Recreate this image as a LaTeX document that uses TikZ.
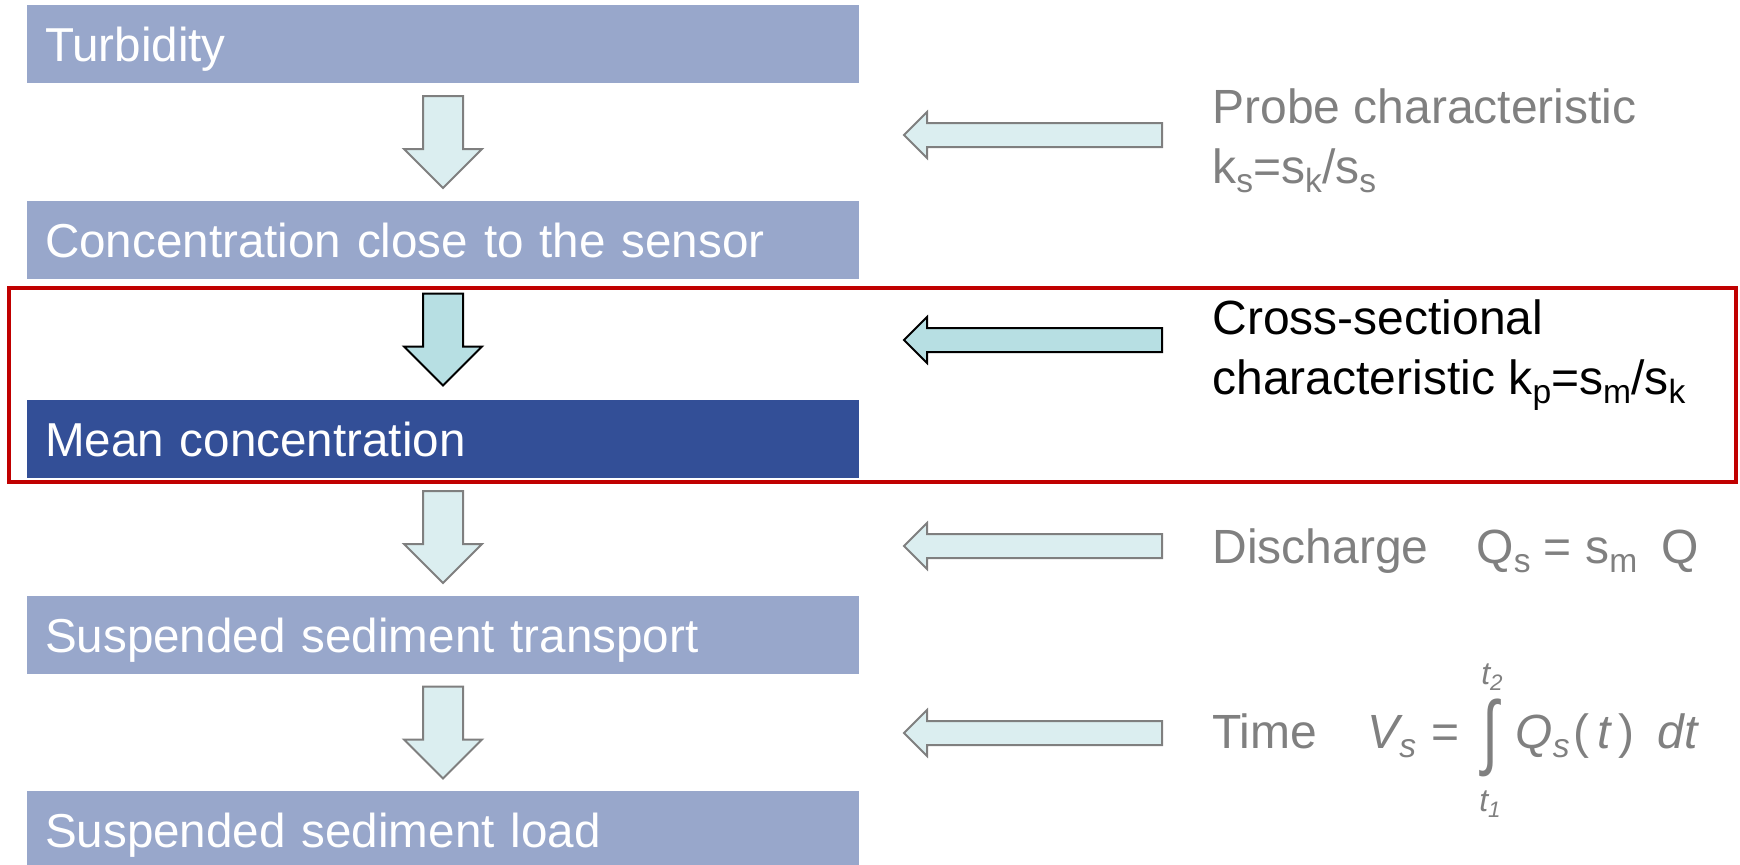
\documentclass[tikz,border=0pt]{standalone}
\usepackage{fontspec}
\setmainfont{Liberation Sans}
\usepackage{graphicx}
\usetikzlibrary{calc}
\definecolor{boxlight}{HTML}{98A7CB}
\definecolor{boxdark}{HTML}{334F97}
\definecolor{arrlight}{HTML}{DBEEF0}
\definecolor{arrdark}{HTML}{B7DFE3}
\definecolor{arredge}{HTML}{7F7F7F}
\definecolor{hlred}{HTML}{C00000}
\definecolor{txtgray}{HTML}{808080}
\newcommand\sub[1]{\raisebox{-0.2em}{\scalebox{0.7}{#1}}}
\begin{document}
\begin{tikzpicture}[x=0.5pt,y=-0.5pt,
  stepbox/.style={rectangle, fill=boxlight, text=white, minimum width=416pt, minimum height=39pt,
    inner xsep=9pt, inner ysep=0pt, text width=398pt, align=left, text height=17pt, text depth=0pt,
    font=\fontsize{23.8}{28}\selectfont},
  darkbox/.style={stepbox, fill=boxdark},
  rtext/.style={inner sep=0pt, anchor=base west, text=txtgray, font=\fontsize{24}{28}\selectfont},
  ltext/.style={inner sep=0pt, text=txtgray, font=\fontsize{16}{18}\selectfont},
  lightarrow/.style={fill=arrlight, draw=arredge, line width=1pt, line join=miter},
  darkarrow/.style={fill=arrdark, draw=black, line width=1pt, line join=miter},
  pics/darrow/.style={code={\draw[#1] (-20,-46) -- (20,-46) -- (20,7) -- (39,7) -- (0,46) -- (-39,7) -- (-20,7) -- cycle;}},
  pics/larrow/.style={code={\draw[#1] (-129,0) -- (-106,-23) -- (-106,-12) -- (129,-12) -- (129,12) -- (-106,12) -- (-106,23) -- cycle;}}
]
\useasboundingbox (0,0) rectangle (1740,864);

% left column boxes
\node[stepbox] (b1) at (443,44) {Turbidity};
\node[stepbox] (b2) at (443,240) {Concentration close to the sensor};
\node[darkbox] (b3) at (443,439) {Mean concentration};
\node[stepbox] (b4) at (443,635) {Suspended sediment transport};
\node[stepbox] (b5) at (443,830) {Suspended sediment load};

% down arrows
\pic at ($(b1.south)!0.5!(b2.north)$) {darrow=lightarrow};
\pic at ($(b2.south)!0.5!(b3.north)$) {darrow=darkarrow};
\pic at ($(b3.south)!0.5!(b4.north)$) {darrow=lightarrow};
\pic at ($(b4.south)!0.5!(b5.north)$) {darrow=lightarrow};

% left arrows
\pic at (1033,135) {larrow=lightarrow};
\pic at (1033,340) {larrow=darkarrow};
\pic at (1033,546) {larrow=lightarrow};
\pic at (1033,733) {larrow=lightarrow};

% right texts
\node[rtext] (p1) at (1212,123) {Probe characteristic};
\node[rtext] (p2) at (1212,183) {k\sub{s}=s\sub{k}/s\sub{s}};
\node[rtext, text=black] (c1) at (1212,334) {Cross-sectional};
\node[rtext, text=black] (c2) at (1212,394) {characteristic k\sub{p}=s\sub{m}/s\sub{k}};
\node[rtext] (d1) at (1212,563) {Discharge};
\node[rtext] (d2) at (1476,563) {Q\sub{s} = s\sub{m}\hspace{12pt}Q};
\node[rtext] (t0) at (1212,748) {Time};
\node[rtext] (tV) at (1367,748) {\itshape V\sub{s}};
\node[rtext] (teq) at (1431,748) {=};
\node[inner sep=0pt, text=txtgray] (tint) at (1490,738) {\resizebox*{8pt}{39pt}{∫}};
\node[ltext] (tup) at (1492,677) {\itshape t\sub{2}};
\node[ltext] (tlo) at (1490,804) {\itshape t\sub{1}};
\node[rtext] (tQ) at (1515,748) {\itshape Q\sub{s}\hspace{2pt}\upshape(\hspace{4pt}\itshape t\hspace{4pt}\upshape)};
\node[rtext] (tdt) at (1657,748) {\itshape dt};

% highlight frame
\node[draw=hlred, line width=1.75pt, minimum width=863.5pt, minimum height=97pt, inner sep=0pt] (hl) at (872.5,385) {};
\end{tikzpicture}
\end{document}
